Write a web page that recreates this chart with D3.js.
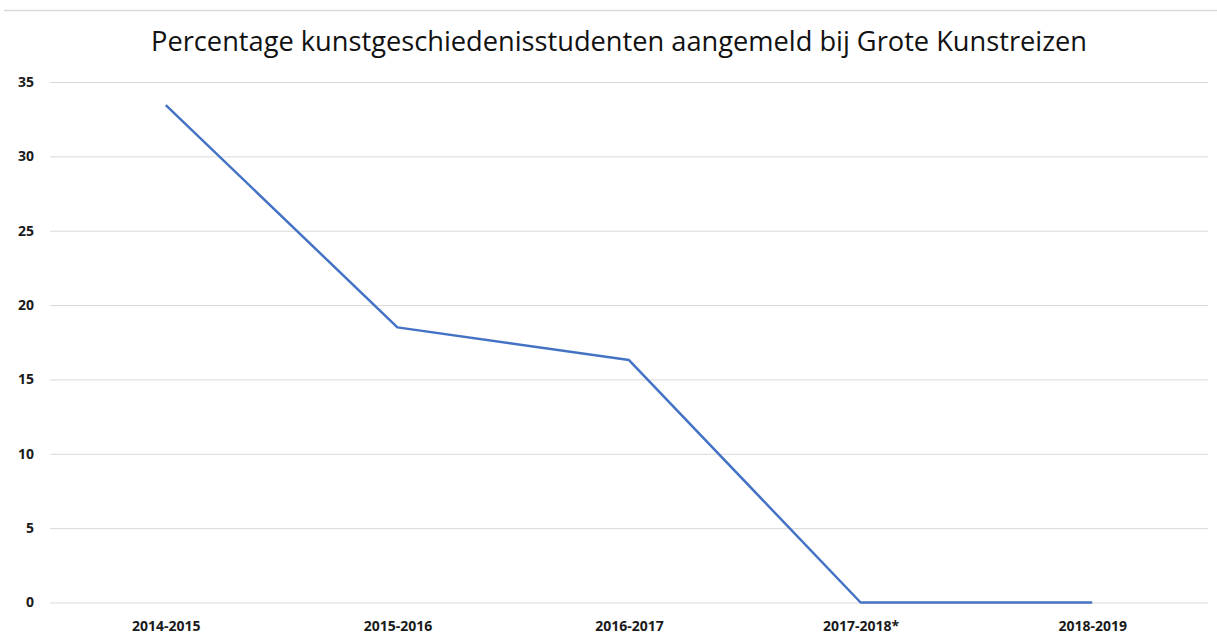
<!DOCTYPE html>
<html>
<head>
<meta charset="utf-8">
<script src="https://cdn.jsdelivr.net/npm/d3@7"></script>
<style>
  body { margin: 0; background: #fff; }
  svg { display: block; }
</style>
</head>
<body>
<div class="container"></div>
<script>
const categories = ["2014-2015", "2015-2016", "2016-2017", "2017-2018*", "2018-2019"];
const values = [33.45, 18.5, 16.3, 0, 0];
const yTicks = [0, 5, 10, 15, 20, 25, 30, 35];
const title = "Percentage kunstgeschiedenisstudenten aangemeld bij Grote Kunstreizen";

const width = 1217;
const height = 637;
const margin = { top: 82, right: 9, bottom: 34.5, left: 50 };

const svg = d3.select(".container")
  .append("svg")
  .attr("width", width)
  .attr("height", height)
  .attr("viewBox", `0 0 ${width} ${height}`);

svg.append("rect")
  .attr("width", width)
  .attr("height", height)
  .attr("fill", "#ffffff");

// top border
svg.append("line")
  .attr("x1", 4)
  .attr("x2", width)
  .attr("y1", 10.5)
  .attr("y2", 10.5)
  .attr("stroke", "#d9d9d9")
  .attr("stroke-width", 1.5);

const x = d3.scalePoint()
  .domain(categories)
  .range([margin.left, width - margin.right])
  .padding(0.5);

const y = d3.scaleLinear()
  .domain([0, 35])
  .range([height - margin.bottom, margin.top]);

// gridlines
const grid = svg.append("g")
  .attr("transform", `translate(${margin.left},0)`)
  .call(d3.axisLeft(y)
    .tickValues(yTicks)
    .tickSize(-(width - margin.left - margin.right))
    .tickFormat(""));
grid.select(".domain").remove();
grid.selectAll(".tick line")
  .attr("stroke", "#d9d9d9")
  .attr("stroke-width", 1);

// y axis labels
const yAxis = svg.append("g")
  .attr("transform", `translate(${margin.left - 16},0)`)
  .call(d3.axisLeft(y).tickValues(yTicks).tickSize(0).tickPadding(0));
yAxis.select(".domain").remove();
yAxis.selectAll("text")
  .style("font-family", "'Open Sans', sans-serif")
  .style("font-size", "14px")
  .style("font-weight", "bold")
  .attr("fill", "#1a1a1a");

// x axis labels
const xAxis = svg.append("g")
  .attr("transform", `translate(0,${height - margin.bottom})`)
  .call(d3.axisBottom(x).tickSize(0).tickPadding(19));
xAxis.select(".domain").remove();
xAxis.selectAll("text")
  .style("font-family", "'Open Sans', sans-serif")
  .style("font-size", "14px")
  .style("font-weight", "bold")
  .attr("fill", "#1a1a1a");

// line
const line = d3.line()
  .x((d, i) => x(categories[i]))
  .y(d => y(d));

svg.append("path")
  .datum(values)
  .attr("fill", "none")
  .attr("stroke", "#4472c4")
  .attr("stroke-width", 2.5)
  .attr("stroke-linejoin", "round")
  .attr("d", line);

// title
const titleText = svg.append("text")
  .attr("x", 619)
  .attr("y", 51)
  .attr("text-anchor", "middle")
  .style("font-family", "'Open Sans', sans-serif")
  .style("font-size", "26px")
  .attr("fill", "#111")
  .text(title);
const targetWidth = 936;
const w = titleText.node().getComputedTextLength();
titleText.style("font-size", (26 * targetWidth / w).toFixed(2) + "px");
</script>
</body>
</html>
